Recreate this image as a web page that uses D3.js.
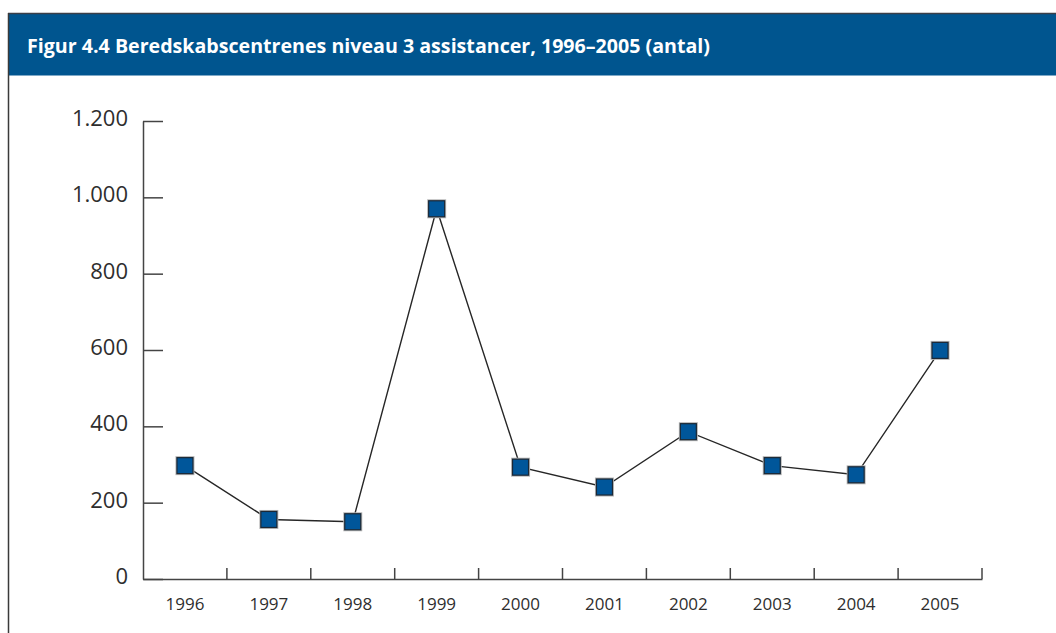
<!DOCTYPE html>
<html>
<head>
<meta charset="utf-8">
<script src="https://cdn.jsdelivr.net/npm/d3@7"></script>
<style>
  html, body { margin: 0; padding: 0; background: #fff; }
  svg { display: block; }
</style>
</head>
<body>
<svg id="chart" width="1056" height="633"></svg>
<script>
// Beredskabscentrenes niveau 3 assistancer per år
const years = ["1996", "1997", "1998", "1999", "2000", "2001", "2002", "2003", "2004", "2005"];
const assistancer = [297, 156, 150, 970, 293, 241, 386, 297, 273, 599];
const yTicks = [0, 200, 400, 600, 800, 1000, 1200];
const title = "Figur 4.4 Beredskabscentrenes niveau 3 assistancer, 1996–2005 (antal)";

const svg = d3.select("#chart");
const W = 1056, H = 633;

const blue = "#00558f";
const markerBlue = "#00569a";
const ink = "#2e2e2e";

// Danish number format: 1.200
const da = d3.formatLocale({ decimal: ",", thousands: ".", grouping: [3], currency: ["", " kr."] });
const fmt = da.format(",d");

// Frame: header band and left rule
svg.append("rect")
  .attr("x", 8).attr("y", 13.5).attr("width", W - 8).attr("height", 62)
  .attr("fill", blue);
svg.append("line")
  .attr("x1", 8).attr("x2", W).attr("y1", 13.5).attr("y2", 13.5)
  .attr("stroke", "#3a3f48").attr("stroke-width", 1.5);
svg.append("line")
  .attr("x1", 8.5).attr("x2", 8.5).attr("y1", 13).attr("y2", H)
  .attr("stroke", "#3a3a3a").attr("stroke-width", 1.5);

const t = svg.append("text")
  .attr("x", 27).attr("y", 53)
  .attr("fill", "#fff")
  .attr("font-family", "'Open Sans', sans-serif")
  .attr("font-weight", 700)
  .attr("font-size", 20)
  .text(title);
t.attr("textLength", 683).attr("lengthAdjust", "spacingAndGlyphs");

// Scales
const x = d3.scaleBand().domain(years).range([143, 982]).padding(0);
const y = d3.scaleLinear().domain([0, 1200]).range([579, 121]);

// Y axis: ticks pointing into the plot, labels to the left
const yAxis = d3.axisLeft(y)
  .tickValues(yTicks)
  .tickFormat(fmt)
  .tickSize(-20)
  .tickSizeOuter(0)
  .tickPadding(15);

const gy = svg.append("g").attr("transform", "translate(143,0)").call(yAxis);
gy.select(".domain").attr("stroke", "#444").attr("stroke-width", 1.5);
gy.selectAll(".tick line").attr("stroke", "#444").attr("stroke-width", 1.5);
gy.selectAll(".tick text")
  .attr("fill", ink)
  .attr("font-family", "'Open Sans', sans-serif")
  .attr("font-size", 22)
  .attr("dy", "0.2em");

// X axis: labels centred in each band, ticks on band boundaries
const xAxis = d3.axisBottom(x).tickSize(0).tickSizeOuter(0).tickPadding(0);
const gx = svg.append("g").attr("transform", "translate(0,579)").call(xAxis);
gx.select(".domain").attr("stroke", "#444").attr("stroke-width", 1.5);
gx.selectAll(".tick text")
  .attr("fill", ink)
  .attr("font-family", "'Open Sans', sans-serif")
  .attr("font-size", 17)
  .attr("y", 25)
  .attr("dy", "0.35em");

gx.selectAll(".boundary")
  .data(years)
  .join("line")
  .attr("class", "boundary")
  .attr("x1", d => x(d) + x.bandwidth())
  .attr("x2", d => x(d) + x.bandwidth())
  .attr("y1", 0).attr("y2", -11)
  .attr("stroke", "#444").attr("stroke-width", 1.5);

// Data line
const pts = years.map((yr, i) => ({ yr, v: assistancer[i] }));
const line = d3.line().x(d => x(d.yr) + x.bandwidth() / 2).y(d => y(d.v));
svg.append("path")
  .datum(pts)
  .attr("d", line)
  .attr("fill", "none")
  .attr("stroke", "#262626")
  .attr("stroke-width", 1.4);

// Square markers with a faint halo
const s = 16;
const mk = svg.append("g").selectAll("g").data(pts).join("g")
  .attr("transform", d => `translate(${x(d.yr) + x.bandwidth() / 2},${y(d.v)})`);
mk.append("rect")
  .attr("x", -s / 2 - 1.5).attr("y", -s / 2 - 1.5)
  .attr("width", s + 3).attr("height", s + 3)
  .attr("fill", "#b5b5b5");
mk.append("rect")
  .attr("x", -s / 2).attr("y", -s / 2)
  .attr("width", s).attr("height", s)
  .attr("fill", markerBlue)
  .attr("stroke", "#1b2836").attr("stroke-width", 1.2);
</script>
</body>
</html>
